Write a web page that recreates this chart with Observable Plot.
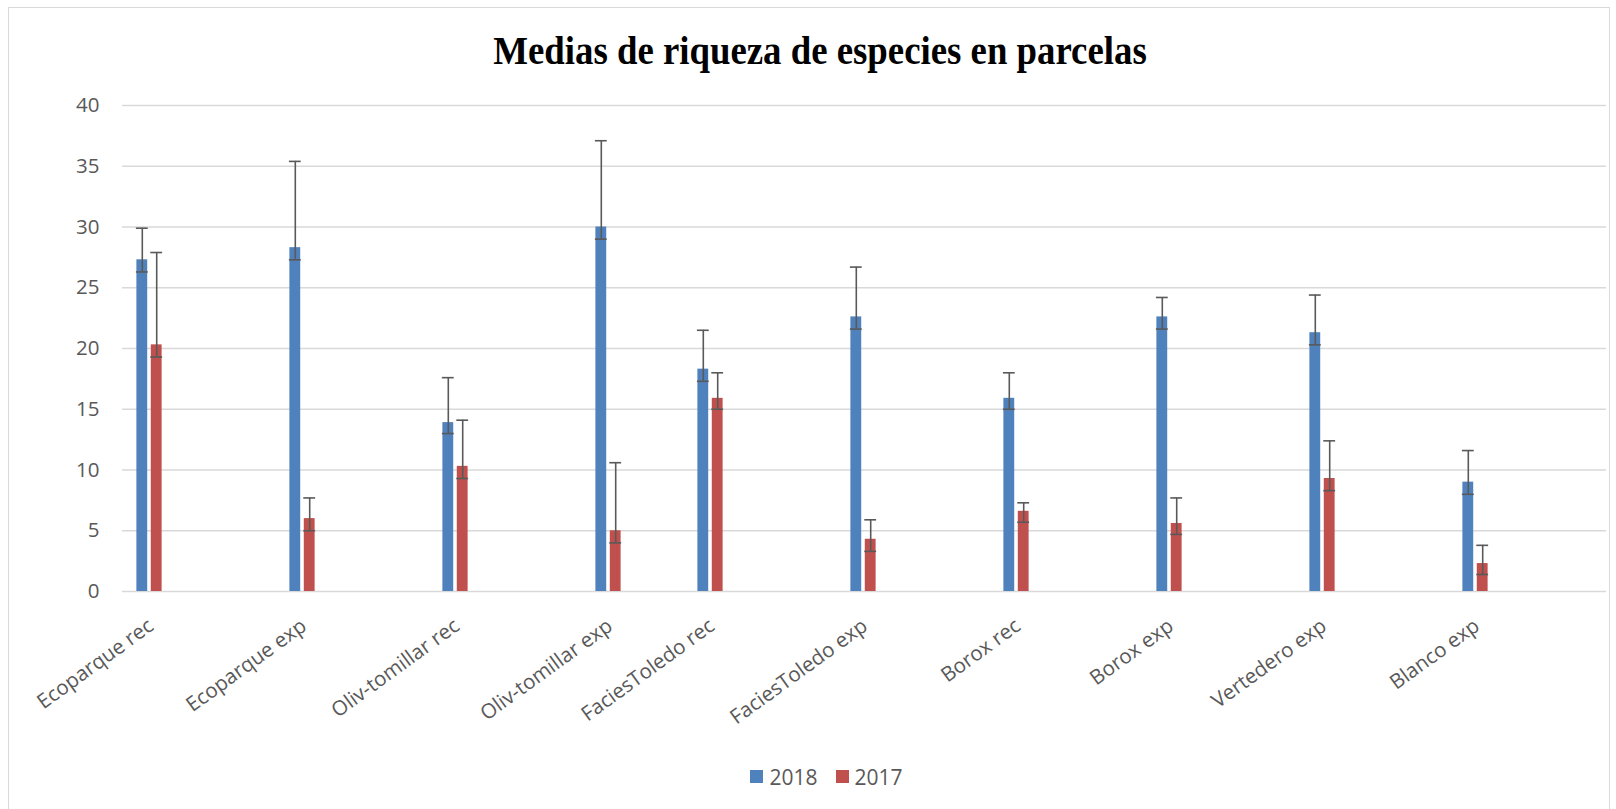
<!DOCTYPE html>
<html>
<head>
<meta charset="utf-8">
<script src="https://cdn.jsdelivr.net/npm/d3@7"></script>
<script src="https://cdn.jsdelivr.net/npm/@observablehq/plot@0.6"></script>
<style>
  html, body { margin: 0; padding: 0; background: #fff; }
  #wrap { position: relative; width: 1616px; height: 809px; overflow: hidden; background: #fff; }
  #frame { position: absolute; left: 8px; top: 7px; width: 1602px; height: 820px; border: 1.5px solid #d9d9d9; box-sizing: border-box; pointer-events: none; }
  #title { position: relative; height: 80px; width: 1616px; }
  #title span { position: absolute; left: 820px; top: 31px; transform: translateX(-50%) scaleX(0.92); white-space: nowrap;
    font-family: "Liberation Serif", "Times New Roman", serif; font-weight: bold; font-size: 40px; line-height: 40px; color: #000; }
  #chart svg { display: block; }
  #legend { height: 79px; display: flex; justify-content: center; align-items: center; padding-top: 14px; padding-left: 37px; box-sizing: border-box;
    font-family: "Open Sans", sans-serif; font-size: 21px; color: #595959; }
  .item { display: flex; align-items: center; margin: 0 9px; }
  .sw { width: 13px; height: 13px; margin-right: 6px; }
</style>
</head>
<body>
<div id="wrap">
  <div id="title"><span>Medias de riqueza de especies en parcelas</span></div>
  <div id="chart"></div>
  <div id="legend"></div>
  <div id="frame"></div>
</div>
<script>
// Category rows of the source sheet (blank rows leave empty slots on the axis)
const categoryRows = ["Ecoparque rec", "", "", "Ecoparque exp", "", "", "Oliv-tomillar rec", "", "",
  "Oliv-tomillar exp", "", "FaciesToledo rec", "", "", "FaciesToledo exp", "", "", "Borox rec", "", "",
  "Borox exp", "", "", "Vertedero exp", "", "", "Blanco exp", "", ""];
const seriesNames = ["2018", "2017"];
const seriesColors = ["#4F81BD", "#C0504D"];
const mean2018  = [27.3, 28.3, 13.9, 30.0, 18.3, 22.6, 15.9, 22.6, 21.3, 9.0];
const upper2018 = [29.9, 35.4, 17.6, 37.1, 21.5, 26.7, 18.0, 24.2, 24.4, 11.6];
const lower2018 = [26.3, 27.3, 13.0, 29.0, 17.3, 21.6, 15.0, 21.6, 20.3, 8.0];
const mean2017  = [20.3, 6.0, 10.3, 5.0, 15.9, 4.3, 6.6, 5.6, 9.3, 2.3];
const upper2017 = [27.9, 7.7, 14.1, 10.6, 18.0, 5.9, 7.3, 7.7, 12.4, 3.8];
const lower2017 = [19.3, 5.0, 9.3, 4.0, 15.0, 3.3, 5.7, 4.7, 8.3, 1.4];
const yTicks = [0, 5, 10, 15, 20, 25, 30, 35, 40];

const W = 1616, ML = 122, MR = 10;
const slots = d3.range(categoryRows.length);
const bw = (W - ML - MR) / slots.length;
const filled = slots.filter(i => categoryRows[i] !== "");

function rows(means, lows, highs) {
  return filled.map((s, i) => ({slot: s, v: means[i], lo: lows[i], hi: highs[i]}));
}
const d2018 = rows(mean2018, lower2018, upper2018);
const d2017 = rows(mean2017, lower2017, upper2017);

// each series' bar sits in its own part of the category band (gap between)
const gap = 3.4;
const barW = 11;
function partOf(k) {
  const total = 2 * barW + gap;
  const a = (bw - total) / 2 - 1.5 + k * (barW + gap);
  return [a, a + barW];
}
const errColor = "#595959";

function seriesMarks(data, k) {
  const [a, b] = partOf(k);
  const dx = (a + b) / 2 - bw / 2;
  return [
    Plot.barY(data, {x: "slot", y: "v", fill: seriesColors[k], insetLeft: a, insetRight: bw - b}),
    Plot.ruleX(data, {x: "slot", y1: "lo", y2: "hi", dx, stroke: errColor, strokeWidth: 1.6}),
    Plot.tickY(data, {x: "slot", y: "hi", stroke: errColor, strokeWidth: 1.6, insetLeft: a - 0.5, insetRight: bw - b - 0.5}),
    Plot.tickY(data, {x: "slot", y: "lo", stroke: errColor, strokeWidth: 1.6, insetLeft: a - 0.5, insetRight: bw - b - 0.5})
  ];
}

const chart = Plot.plot({
  width: W, height: 650,
  marginTop: 25, marginBottom: 139, marginLeft: ML, marginRight: MR,
  style: {fontFamily: "Open Sans", background: "white", overflow: "visible"},
  x: {type: "band", domain: slots, padding: 0, axis: null},
  y: {domain: [0, 40], axis: null},
  marks: [
    Plot.ruleY(yTicks, {stroke: "#d9d9d9", strokeWidth: 1.5}),
    Plot.axisY(yTicks, {tickSize: 0, tickPadding: 23, fontSize: 20.5, fill: "#595959", label: null}),
    ...seriesMarks(d2018, 0),
    ...seriesMarks(d2017, 1),
    Plot.text(filled, {x: d => d, y: () => 0, text: d => categoryRows[d], rotate: -36, textAnchor: "end",
      dx: 0, dy: 32, fontSize: 20.5, fill: "#595959"})
  ]
});
document.getElementById("chart").appendChild(chart);

const legend = document.getElementById("legend");
seriesNames.forEach((n, i) => {
  const it = document.createElement("div");
  it.className = "item";
  it.innerHTML = `<div class="sw" style="background:${seriesColors[i]}"></div><span>${n}</span>`;
  legend.appendChild(it);
});
</script>
</body>
</html>
